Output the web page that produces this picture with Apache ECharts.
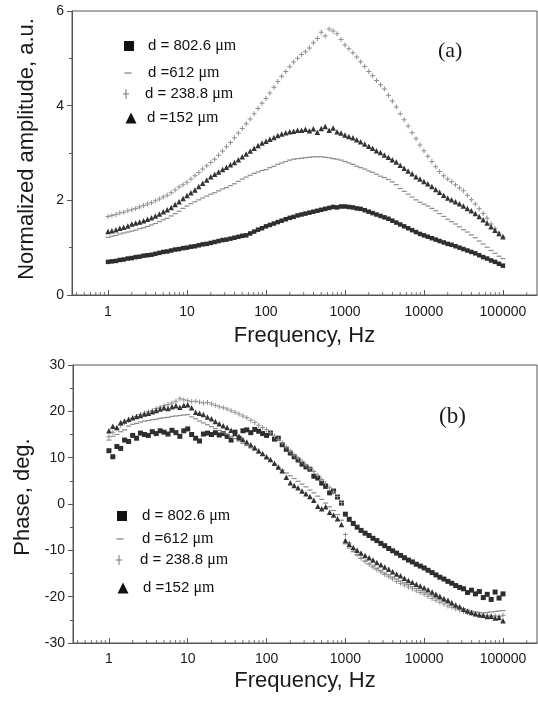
<!DOCTYPE html>
<html><head><meta charset="utf-8">
<script src="https://cdn.jsdelivr.net/npm/echarts@6/dist/echarts.min.js"></script>
<style>html,body{margin:0;padding:0;background:#fff}#c{width:538px;height:704px}</style>
</head><body><div id="c"></div>
<script>
// ---------- data ----------
const freq = [1,1.12,1.26,1.41,1.58,1.78,2,2.24,2.51,2.82,3.16,3.55,3.98,4.47,5.01,5.62,6.31,7.08,7.94,8.91,
10,11.2,12.6,14.1,15.8,17.8,20,22.4,25.1,28.2,31.6,35.5,39.8,44.7,50.1,56.2,63.1,70.8,79.4,89.1,
100,112,126,141,158,178,200,224,251,282,316,355,398,447,501,562,631,708,794,891,
1000,1120,1260,1410,1580,1780,2000,2240,2510,2820,3160,3550,3980,4470,5010,5620,6310,7080,7940,8910,
10000,11200,12600,14100,15800,17800,20000,22400,25100,28200,31600,35500,39800,44700,50100,56200,63100,70800,79400,89100,100000];

const seriesNames = ['d = 802.6 μm', 'd =612 μm', 'd = 238.8 μm', 'd =152 μm'];

// (a) normalized amplitude
const ampD802 = [0.70,0.71,0.72,0.74,0.75,0.77,0.78,0.80,0.81,0.83,0.84,0.85,0.87,0.89,0.91,0.92,0.94,0.96,0.97,0.99,
1.00,1.02,1.03,1.05,1.07,1.08,1.10,1.12,1.14,1.16,1.17,1.19,1.21,1.23,1.25,1.26,1.30,1.34,1.38,1.41,
1.45,1.48,1.51,1.54,1.57,1.60,1.63,1.65,1.68,1.70,1.72,1.74,1.76,1.78,1.80,1.82,1.84,1.86,1.85,1.87,
1.87,1.86,1.85,1.83,1.82,1.79,1.76,1.73,1.70,1.67,1.64,1.61,1.57,1.53,1.49,1.45,1.41,1.37,1.33,1.29,
1.26,1.23,1.20,1.17,1.14,1.11,1.08,1.06,1.03,1.00,0.97,0.94,0.91,0.88,0.84,0.80,0.77,0.73,0.70,0.66,0.62];
const ampD612 = [1.22,1.24,1.26,1.29,1.31,1.33,1.35,1.37,1.40,1.42,1.45,1.48,1.51,1.55,1.59,1.62,1.67,1.72,1.77,1.83,
1.88,1.93,1.97,2.01,2.05,2.09,2.13,2.16,2.20,2.24,2.27,2.31,2.35,2.40,2.45,2.49,2.53,2.57,2.60,2.63,
2.65,2.69,2.72,2.76,2.79,2.82,2.85,2.87,2.88,2.89,2.90,2.91,2.92,2.92,2.92,2.91,2.90,2.88,2.87,2.85,
2.82,2.79,2.76,2.72,2.69,2.66,2.62,2.59,2.55,2.51,2.48,2.44,2.39,2.33,2.25,2.19,2.13,2.07,2.01,1.96,
1.92,1.88,1.83,1.78,1.72,1.66,1.60,1.55,1.50,1.44,1.38,1.33,1.27,1.21,1.14,1.08,1.01,0.94,0.88,0.82,0.77];
const ampD238 = [1.66,1.68,1.70,1.73,1.75,1.78,1.80,1.83,1.86,1.89,1.92,1.95,1.99,2.03,2.07,2.11,2.16,2.22,2.28,2.33,
2.38,2.45,2.52,2.59,2.66,2.73,2.80,2.87,2.95,3.04,3.13,3.22,3.32,3.42,3.52,3.62,3.72,3.83,3.94,4.05,
4.15,4.27,4.39,4.51,4.62,4.72,4.82,4.92,5.00,5.08,5.14,5.22,5.33,5.42,5.55,5.47,5.62,5.58,5.52,5.40,
5.28,5.20,5.12,5.03,4.93,4.83,4.72,4.63,4.53,4.44,4.35,4.22,4.10,3.97,3.83,3.70,3.57,3.43,3.30,3.17,
3.05,2.93,2.82,2.71,2.61,2.52,2.45,2.39,2.33,2.26,2.20,2.11,2.01,1.92,1.82,1.72,1.62,1.50,1.40,1.31,1.23];
const ampD152 = [1.34,1.36,1.38,1.41,1.43,1.46,1.50,1.52,1.54,1.57,1.60,1.63,1.67,1.71,1.76,1.80,1.85,1.91,1.97,2.04,
2.10,2.16,2.22,2.29,2.36,2.43,2.50,2.55,2.60,2.65,2.70,2.75,2.80,2.86,2.92,2.98,3.04,3.10,3.16,3.21,
3.25,3.29,3.33,3.37,3.40,3.43,3.45,3.46,3.48,3.48,3.50,3.47,3.51,3.44,3.52,3.56,3.48,3.53,3.45,3.42,
3.38,3.35,3.32,3.28,3.24,3.19,3.14,3.10,3.05,3.01,2.96,2.91,2.86,2.81,2.74,2.68,2.62,2.56,2.50,2.45,
2.40,2.35,2.29,2.23,2.17,2.11,2.05,2.01,1.97,1.93,1.88,1.83,1.78,1.72,1.66,1.59,1.52,1.44,1.37,1.30,1.23];

// (b) phase, deg.
const phD802 = [11.5,10.2,12.4,12.0,13.8,13.5,14.8,14.2,15.3,15.0,14.8,15.6,15.2,15.8,15.5,15.1,15.9,15.4,14.6,15.8,
16.2,15.0,14.2,13.6,15.1,15.3,15.0,15.4,14.9,15.2,14.6,13.8,15.5,14.2,15.8,16.0,15.4,16.1,15.7,15.2,
14.8,15.3,14.0,14.2,12.8,11.8,11.0,10.2,9.5,8.6,8.0,7.5,6.0,5.6,4.5,3.8,2.4,2.8,1.5,0.2,
-2.2,-3.3,-4.2,-5.0,-5.7,-6.3,-6.8,-7.4,-7.9,-8.5,-9.0,-9.6,-10.1,-10.6,-11.1,-11.6,-12.1,-12.5,-13.0,-13.4,
-13.8,-14.3,-14.8,-15.3,-15.8,-16.2,-16.7,-17.1,-17.6,-18.0,-18.3,-19.1,-18.6,-19.4,-18.9,-20.2,-19.5,-20.6,-19.0,-20.3,-19.4];
const phD612 = [13.8,14.6,15.0,15.6,16.0,16.8,17.2,17.4,17.7,17.9,18.0,18.2,18.3,18.5,18.6,18.7,18.9,19.0,19.1,19.2,
19.3,18.8,18.4,17.9,17.5,17.1,16.7,16.3,15.9,15.5,15.1,14.6,14.1,13.6,13.1,12.6,12.1,11.6,11.0,10.5,
10.0,9.3,8.6,7.9,7.3,6.7,6.1,5.5,4.9,4.3,3.7,3.0,2.4,1.7,1.0,0.2,-0.6,-1.4,-2.3,-3.5,
-8.6,-9.5,-10.3,-11.0,-11.7,-12.3,-12.9,-13.4,-13.9,-14.4,-14.9,-15.3,-15.8,-16.2,-16.6,-17.0,-17.4,-17.8,-18.2,-18.6,
-19.0,-19.4,-19.8,-20.2,-20.6,-21.0,-21.4,-21.7,-22.0,-22.3,-22.6,-22.9,-23.1,-23.3,-23.4,-23.5,-23.4,-23.3,-23.2,-23.1,-23.0];
const phD238 = [14.5,15.5,16.3,17.0,17.6,18.0,18.5,18.9,19.3,19.6,19.9,20.2,20.6,20.9,21.2,21.5,21.8,22.2,22.7,22.5,
22.3,22.1,22.2,22.0,21.8,21.9,21.6,21.3,21.0,20.8,20.5,20.1,19.8,19.4,19.0,18.6,18.1,17.6,17.0,16.5,
16.0,15.4,14.7,14.0,13.2,12.3,11.4,10.6,9.9,9.2,8.4,7.7,7.0,6.2,5.3,4.4,3.5,2.6,1.6,0.3,
-6.6,-8.4,-9.8,-10.9,-11.7,-12.4,-13.0,-13.6,-14.2,-14.7,-15.2,-15.7,-16.2,-16.7,-17.1,-17.5,-17.9,-18.3,-18.7,-19.1,
-19.5,-19.9,-20.4,-20.8,-21.2,-21.6,-22.0,-22.3,-22.6,-22.9,-23.2,-23.4,-23.6,-23.8,-24.0,-24.1,-24.0,-24.2,-24.1,-24.3,-24.0];
const phD152 = [15.8,16.8,16.5,17.6,17.9,18.3,18.6,18.9,19.1,19.4,19.6,19.9,20.2,20.5,20.8,20.6,21.0,21.2,20.9,21.3,
21.4,20.8,19.8,19.6,19.3,18.8,18.4,17.8,17.3,16.9,16.5,15.9,15.2,14.6,13.9,13.4,12.8,12.2,11.5,10.9,
10.2,9.6,8.8,8.0,7.2,5.8,4.6,4.0,3.5,2.8,2.2,1.6,0.8,-0.5,-1.0,-0.6,-1.8,-2.4,-3.2,-4.4,
-7.9,-8.7,-9.4,-10.0,-10.6,-11.1,-11.6,-12.1,-12.6,-13.1,-13.6,-14.1,-14.6,-15.1,-15.5,-16.0,-16.5,-16.9,-17.3,-17.7,
-18.1,-18.5,-19.0,-19.5,-19.9,-20.4,-20.8,-21.3,-21.8,-22.2,-22.7,-23.1,-23.4,-23.7,-23.9,-24.0,-24.3,-24.2,-24.6,-24.5,-25.2];

// axis ticks
const ampTicks = [0, 2, 4, 6];
const phaseTicks = [-30, -20, -10, 0, 10, 20, 30];
const xTickLabels = ['1', '10', '100', '1000', '10000', '100000'];
const minorMantissas = [2, 3, 4, 5, 6, 7, 8, 9];
const minorDecades = [0.1, 1, 10, 100, 1000, 10000, 100000];

// ---------- chart ----------
const xMin = 0.35, xMax = 270000;
const minorTickVals = [];
minorDecades.forEach(d => minorMantissas.forEach(m => { const v = m * d; if (v > xMin && v < xMax) minorTickVals.push(v); }));

const AX = '#555', TX = '#1a1a1a';
const sym = {
  sq:   {symbol: 'rect', color: '#2e2e2e'},
  dash: {symbol: 'rect', color: '#8a8a8a'},
  plus: {symbol: 'path://M2,0H3V5H2ZM0,2H5V3H0Z', color: '#8f8f8f'},
  tri:  {symbol: 'triangle', color: '#333'}
};
const kinds = ['sq', 'dash', 'plus', 'tri'];

function mk(name, kind, size, gi, vals) {
  return {
    type: 'scatter', name, xAxisIndex: gi, yAxisIndex: gi,
    data: freq.map((f, i) => [f, vals[i]]),
    symbol: sym[kind].symbol, symbolSize: size,
    itemStyle: {color: sym[kind].color, opacity: 1},
    silent: true, animation: false
  };
}
function minorTicks(gi, yv) {
  return {
    type: 'scatter', xAxisIndex: gi, yAxisIndex: gi, silent: true, animation: false, clip: false,
    data: minorTickVals.map(v => [v, yv]),
    symbol: 'rect', symbolSize: [1, 3], symbolOffset: [0, -1.5],
    itemStyle: {color: AX}, z: 6
  };
}
function xAxis(gi, margin, gap) {
  return {
    type: 'log', logBase: 10, gridIndex: gi, min: xMin, max: xMax,
    name: 'Frequency, Hz', nameLocation: 'middle', nameGap: gap,
    nameTextStyle: {fontSize: 22, fontFamily: 'Liberation Sans', color: TX},
    axisLine: {show: true, onZero: false, lineStyle: {color: AX, width: 1}},
    axisTick: {show: true, inside: true, length: 5, lineStyle: {color: AX}},
    minorTick: {show: false},
    splitLine: {show: false},
    axisLabel: {
      show: true, margin, fontSize: 14, fontFamily: 'Liberation Sans', color: TX,
      showMinLabel: false, showMaxLabel: false,
      formatter: v => { const s = String(Math.round(v)); return xTickLabels.indexOf(s) >= 0 ? s : ''; }
    }
  };
}
function yAxis(gi, ticks, name, gap, pad) {
  return {
    type: 'value', gridIndex: gi, min: ticks[0], max: ticks[ticks.length - 1], interval: ticks[1] - ticks[0],
    name, nameLocation: 'middle', nameGap: gap,
    nameTextStyle: {fontSize: 22, fontFamily: 'Liberation Sans', color: TX, padding: pad},
    axisLine: {show: true, onZero: false, lineStyle: {color: AX, width: 1}},
    axisTick: {show: true, inside: false, length: 5, lineStyle: {color: AX}},
    minorTick: {show: true, splitNumber: 2, length: 3, lineStyle: {color: AX}},
    splitLine: {show: false}, minorSplitLine: {show: false},
    axisLabel: {margin: 8, fontSize: 14, fontFamily: 'Liberation Sans', color: TX}
  };
}
function lg(name, icon, w, h, cx, cy, tx, color) {
  const p = Math.max(0, tx - (cx + w / 2 + 5));
  return {
    show: true, data: [{name, icon, itemStyle: {color}}], left: cx - w / 2, top: cy - 7,
    itemWidth: w, itemHeight: h, padding: 0, selectedMode: false,
    formatter: n => '{t|' + n.replace(' μm', '') + ' }{mu|μm}',
    textStyle: {color: '#111', rich: {
      t: {fontSize: 15, fontFamily: 'Liberation Sans', color: '#111', padding: [0, 0, 0, p]},
      mu: {fontSize: 16, fontFamily: 'Liberation Serif', color: '#111'}
    }}
  };
}
const icons = ['path://M0,0H10V10H0Z', 'path://M0,0H7V1.2H0Z', 'path://M2.5,0H3.5V10H2.5ZM0,4.5H6V5.5H0Z', 'path://M5.5,0L11,11H0Z'];
const iconW = [10, 7, 6, 11], iconH = [10, 1.2, 10, 11];
const legA = [[129, 45, 148], [128, 72, 148], [126, 93, 145], [131, 117, 147]];
const legB = [[122, 515, 142], [120, 538, 142], [119, 559, 140], [123, 587, 143]];
const legColors = ['#111', '#777', '#777', '#111'];

const ampData = [ampD802, ampD612, ampD238, ampD152];
const phData = [phD802, phD612, phD238, phD152];
const sizeA = [4.5, [5, 1.2], 5, 5.5], sizeB = [5, [5, 1.2], 5, 5.5];

const series = [];
kinds.forEach((k, i) => series.push(mk(seriesNames[i], k, sizeA[i], 0, ampData[i])));
kinds.forEach((k, i) => series.push(mk(seriesNames[i], k, sizeB[i], 1, phData[i])));
series.push(minorTicks(0, ampTicks[0]));
series.push(minorTicks(1, phaseTicks[0]));

const legends = [];
seriesNames.forEach((n, i) => legends.push(lg(n, icons[i], iconW[i], iconH[i], legA[i][0], legA[i][1], legA[i][2], legColors[i])));
seriesNames.forEach((n, i) => legends.push(lg(n, icons[i], iconW[i], iconH[i], legB[i][0], legB[i][1], legB[i][2], legColors[i])));

const chart = echarts.init(document.getElementById('c'), null, {renderer: 'canvas'});
chart.setOption({
  animation: false,
  backgroundColor: '#fff',
  grid: [
    {left: 72, top: 11, right: 1, bottom: 409, show: true, borderColor: AX, borderWidth: 1, backgroundColor: 'transparent', containLabel: false, outerBoundsMode: 'none'},
    {left: 73, top: 365, right: 1, bottom: 61, show: true, borderColor: AX, borderWidth: 1, backgroundColor: 'transparent', containLabel: false, outerBoundsMode: 'none'}
  ],
  xAxis: [xAxis(0, 10, 30), xAxis(1, 9, 27)],
  yAxis: [yAxis(0, ampTicks, 'Normalized amplitude, a.u.', 34, [0, 0, 0, 8]), yAxis(1, phaseTicks, 'Phase, deg.', 34, [0, 0, 0, 14])],
  legend: legends,
  graphic: [
    {type: 'text', left: 438, top: 40, style: {text: '(a)', font: '22px "Liberation Serif"', fill: TX}},
    {type: 'text', left: 439, top: 405, style: {text: '(b)', font: '23px "Liberation Serif"', fill: TX}}
  ],
  series
});
</script>
</body></html>
